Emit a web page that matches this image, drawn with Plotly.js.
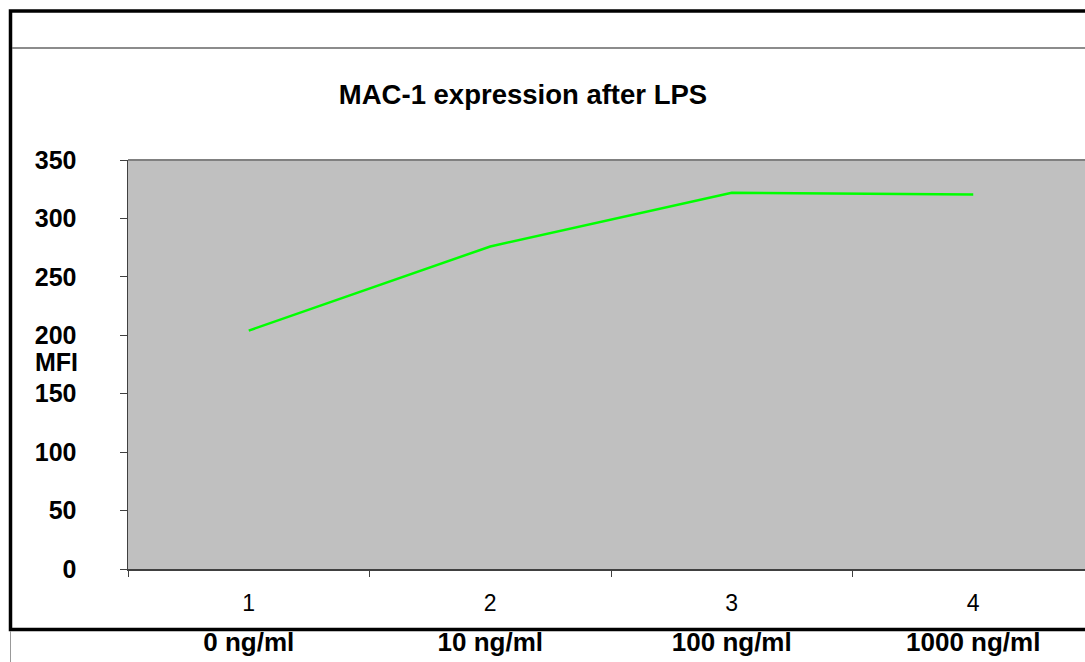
<!DOCTYPE html>
<html>
<head>
<meta charset="utf-8">
<script src="https://cdn.plot.ly/plotly-3.0.1.min.js"></script>
<style>
  html, body { margin: 0; padding: 0; overflow: hidden; background: #fff; }
  #chart { width: 1110px; height: 662px; }
</style>
</head>
<body>
<div id="chart"></div>
<script>
// ---- data ----
const xNums = ['1', '2', '3', '4'];
const categories = ['0 ng/ml', '10 ng/ml', '100 ng/ml', '1000 ng/ml'];
const mfi = [204, 276, 322, 320.5];
const yTicks = [0, 50, 100, 150, 200, 250, 300, 350];
const chartTitle = 'MAC-1 expression after LPS';
const yLabel = 'MFI';

const W = 1110, H = 662;
const M = { l: 128, r: 16, t: 160, b: 93 };
const pw = W - M.l - M.r, ph = H - M.t - M.b;
const px = v => (v - M.l) / pw;          // pixel x -> paper x
const py = v => (H - M.b - v) / ph;      // pixel y -> paper y

const FONT = 'Liberation Sans, Arial, Helvetica, sans-serif';
const catRange = [-0.5, xNums.length - 0.5];

const traces = [
  {
    x: xNums, y: mfi, type: 'scatter', mode: 'lines',
    line: { color: '#00FF00', width: 2.5 },
    xaxis: 'x', yaxis: 'y', showlegend: false, hoverinfo: 'x+y'
  },
  {
    x: xNums, y: mfi, type: 'scatter', mode: 'lines',
    line: { color: 'rgba(0,0,0,0)', width: 0 },
    xaxis: 'x2', yaxis: 'y', showlegend: false, hoverinfo: 'skip'
  }
];

const layout = {
  width: W, height: H,
  margin: M,
  paper_bgcolor: '#ffffff',
  plot_bgcolor: '#C0C0C0',
  font: { family: FONT, color: '#000' },
  showlegend: false,
  title: {
    text: chartTitle,
    font: { family: FONT, size: 27.5, weight: 'bold', color: '#000' },
    x: 523 / W, xanchor: 'center', xref: 'container',
    y: 1 - 94 / H, yanchor: 'middle', yref: 'container'
  },
  xaxis: {
    type: 'category',
    categoryarray: xNums, categoryorder: 'array',
    range: catRange, autorange: false,
    tickson: 'boundaries',
    ticks: 'outside', ticklen: 6, tickcolor: '#404040', tickwidth: 1,
    showline: true, linecolor: '#404040', linewidth: 1.5,
    showgrid: false, zeroline: false,
    tickfont: { family: FONT, size: 23, color: '#000' },
    ticklabelstandoff: 13,
    fixedrange: true
  },
  xaxis2: {
    type: 'category',
    categoryarray: xNums, categoryorder: 'array',
    range: catRange, autorange: false,
    overlaying: 'x', side: 'bottom', anchor: 'y',
    tickvals: xNums, ticktext: categories,
    ticks: '', showline: false, showgrid: false, zeroline: false,
    tickfont: { family: FONT, size: 26, weight: 'bold', color: '#000' },
    ticklabelstandoff: 55,
    fixedrange: true
  },
  yaxis: {
    range: [0, 350], autorange: false,
    tickvals: yTicks, ticktext: yTicks.map(String),
    ticks: 'outside', ticklen: 7, tickcolor: '#404040', tickwidth: 1,
    showline: true, linecolor: '#404040', linewidth: 1.5,
    showgrid: false, zeroline: false,
    tickfont: { family: FONT, size: 25, weight: 'bold', color: '#000' },
    ticklabelstandoff: 38,
    fixedrange: true
  },
  annotations: [
    {
      text: yLabel, xref: 'paper', yref: 'paper',
      x: px(80), xanchor: 'right', y: py(362), yanchor: 'middle',
      showarrow: false,
      font: { family: FONT, size: 25, weight: 'bold', color: '#000' }
    }
  ],
  shapes: [
    // outer chart border
    { type: 'rect', xref: 'paper', yref: 'paper',
      x0: px(10.5), x1: px(1200), y0: py(629.5), y1: py(11),
      line: { color: '#000', width: 3.5 }, fillcolor: 'rgba(0,0,0,0)', layer: 'above' },
    // thin line under top of border
    { type: 'line', xref: 'paper', yref: 'paper',
      x0: px(12), x1: px(1200), y0: py(48), y1: py(48),
      line: { color: '#666', width: 1.5 } },
    // top border of plot area
    { type: 'line', xref: 'paper', yref: 'paper',
      x0: 0, x1: 1, y0: 1, y1: 1,
      line: { color: '#808080', width: 2 }, layer: 'above' },
    // spreadsheet gridline below the chart
    { type: 'line', xref: 'paper', yref: 'paper',
      x0: px(10.5), x1: px(10.5), y0: py(631), y1: py(662),
      line: { color: '#999', width: 1 } }
  ]
};

Plotly.newPlot('chart', traces, layout, { displayModeBar: false, staticPlot: true });
</script>
</body>
</html>
